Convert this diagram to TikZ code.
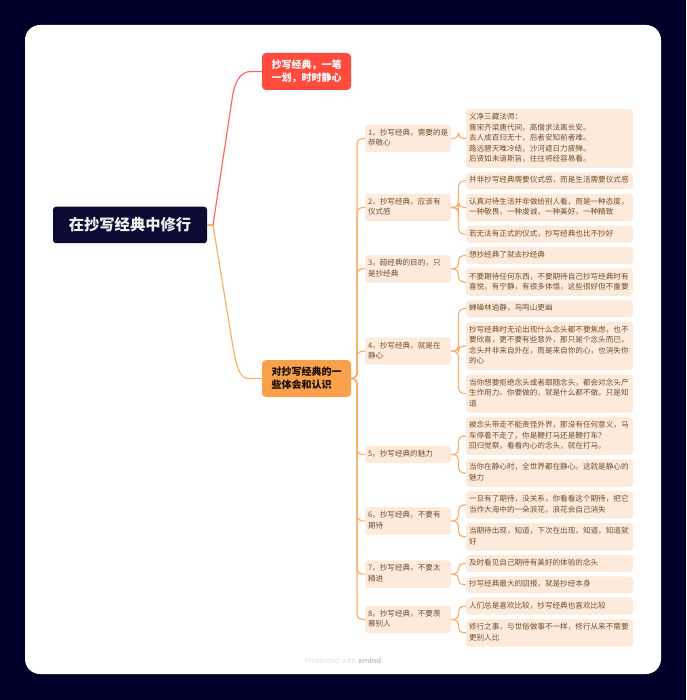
\documentclass[tikz,border=0pt]{standalone}
\usepackage{fontspec}
\setmainfont{Noto Sans CJK SC}
\newfontfamily\brandfont{Poppins}
\usetikzlibrary{positioning, calc}
\definecolor{pagebg}{HTML}{00002A}
\definecolor{rootfill}{HTML}{0A0A32}
\definecolor{redfill}{HTML}{FF4A3D}
\definecolor{redlink}{HTML}{FF6A5C}
\definecolor{orangefill}{HTML}{F9A04C}
\definecolor{leaffill}{HTML}{FEEADB}
\definecolor{leaftext}{HTML}{704F30}
\definecolor{twig}{HTML}{FBB06A}

\begin{document}
\begin{tikzpicture}[
					x=1pt, y=-1pt,
					box/.style={rounded corners=3.5pt, outer sep=0pt, inner xsep=3pt, inner ysep=3.25pt, align=left,
						execute at begin node=\strut, execute at end node=\strut},
					leaf/.style={box, fill=leaffill, text=leaftext, text width=161pt,
						font=\fontsize{7.6}{10.5}\selectfont},
					topic/.style={box, fill=leaffill, text=leaftext, text width=80pt,
						font=\fontsize{7.6}{10.5}\selectfont},
					main/.style={rounded corners=4pt, outer sep=0pt, minimum width=89pt, minimum height=37pt, align=left, inner sep=0pt,
						font=\fontsize{10}{13}\selectfont\bfseries},
					link/.style={draw=twig, line width=1.2pt, rounded corners=5pt},
					node distance=4.38pt]
				\useasboundingbox (0,0) rectangle (686,700);
				\fill[pagebg] (0,0) rectangle (686,700);
				\fill[white] (25,25) [rounded corners=15pt] rectangle (661,674);

				\node[fill=rootfill, text=white!94!black, rounded corners=3pt, outer sep=0pt, minimum width=154pt, minimum height=36.5pt,
					font=\fontsize{15.3}{18}\selectfont\bfseries] (root) at (130,225) {在抄写经典中修行};
				\node[main, fill=redfill, text=white] (maxim) at (306.5,71.5) {抄写经典，一笔\\一划，时时静心};
				\node[main, fill=orangefill, text=black!90!orange] (notes) at (306.5,378.5) {对抄写经典的一\\些体会和认识};

				\node[leaf, anchor=north west] (l1) at (466,109) {义净三藏法师：\\晋宋齐梁唐代间，高僧求法离长安。\\去人成百归无十，后者安知前者难。\\路远碧天唯冷结，沙河遮日力疲殚。\\后贤如未谙斯旨，往往将经容易看。};
				\node[leaf, below=of l1] (l2a) {并非抄写经典需要仪式感，而是生活需要仪式感};
				\node[leaf, below=of l2a] (l2b) {认真对待生活并非做给别人看，而是一种态度，\\一种敬畏，一种虔诚，一种美好，一种精致};
				\node[leaf, below=of l2b] (l2c) {若无法有正式的仪式，抄写经典也比不抄好};
				\node[leaf, below=of l2c] (l3a) {想抄经典了就去抄经典};
				\node[leaf, below=of l3a] (l3b) {不要期待任何东西，不要期待自己抄写经典时有\\喜悦，有宁静，有很多体悟，这些很好但不重要};
				\node[leaf, below=of l3b] (l4a) {蝉噪林逾静，鸟鸣山更幽};
				\node[leaf, below=of l4a] (l4b) {抄写经典时无论出现什么念头都不要焦虑，也不\\要欣喜，更不要有些意外，那只是个念头而已，\\念头并非来自外在，而是来自你的心，也消失你\\的心};
				\node[leaf, below=of l4b] (l4c) {当你想要拒绝念头或者跟随念头，都会对念头产\\生作用力。你要做的，就是什么都不做。只是知\\道};
				\node[leaf, below=of l4c] (l5a) {被念头带走不能责怪外界，那没有任何意义，马\\车停着不走了，你是鞭打马还是鞭打车？\\回归觉察，看看内心的念头，就在打马。};
				\node[leaf, below=of l5a] (l5b) {当你在静心时，全世界都在静心。这就是静心的\\魅力};
				\node[leaf, below=of l5b] (l6a) {一旦有了期待，没关系，你看看这个期待，把它\\当作大海中的一朵浪花，浪花会自己消失};
				\node[leaf, below=of l6a] (l6b) {当期待出现，知道，下次在出现，知道，知道就\\好};
				\node[leaf, below=of l6b] (l7a) {及时看见自己期待有美好的体验的念头};
				\node[leaf, below=of l7a] (l7b) {抄写经典最大的回报，就是抄经本身};
				\node[leaf, below=of l7b] (l8a) {人们总是喜欢比较，抄写经典也喜欢比较};
				\node[leaf, below=of l8a] (l8b) {修行之事，与世俗做事不一样，修行从来不需要\\更别人比};

				\foreach \first/\last/\meet in {l2a/l2c/j2, l3a/l3b/j3, l4a/l4c/j4, l5a/l5b/j5, l6a/l6b/j6, l7a/l7b/j7, l8a/l8b/j8}
					\coordinate (\meet) at ($(\first.west)!.5!(\last.west)$);

				\node[topic, left=15pt of l1] (t1) {1，抄写经典，需要的是\\恭敬心};
				\node[topic, left=15pt of j2] (t2) {2，抄写经典，应该有\\仪式感};
				\node[topic, left=15pt of j3] (t3) {3，超经典的目的，只\\是抄经典};
				\node[topic, left=15pt of j4] (t4) {4，抄写经典，就是在\\静心};
				\node[topic, left=15pt of j5] (t5) {5，抄写经典的魅力};
				\node[topic, left=15pt of j6] (t6) {6，抄写经典，不要有\\期待};
				\node[topic, left=15pt of j7] (t7) {7，抄写经典，不要太\\精进};
				\node[topic, left=15pt of j8] (t8) {8，抄写经典，不要羡\\慕别人};

				\coordinate[right=6pt of root] (j0);
				\draw[link] (root) -- (j0);
				\draw[draw=redlink, line width=1.2pt] (j0) -- ++(20,-132) .. controls +(3,-14) and +(-9,0) .. ++(18,-21.5) -- (maxim);
				\draw[draw=twig, line width=1.2pt] (j0) -- ++(18.5,113) .. controls +(3,17) and +(-10,0) .. ++(16,40.5) -- (notes);

				\foreach \to in {t1, t2, t3, t4, t5, t6, t7, t8}
					\draw[link] (notes.east) -- ++(6,0) |- (\to.west);
				\foreach \from/\to in {t1/l1, t2/l2a, t2/l2b, t2/l2c, t3/l3a, t3/l3b, t4/l4a, t4/l4b, t4/l4c, t5/l5a, t5/l5b, t6/l6a, t6/l6b, t7/l7a, t7/l7b, t8/l8a, t8/l8b}
					\draw[link] (\from.east) -- ++(7.5,0) |- (\to.west);

				\node[inner sep=0pt, font=\fontsize{7}{9}\brandfont, text=black!13] (brand) at (343,661) {Presented with \textcolor{black!22}{\bfseries xmind}};
			\end{tikzpicture}
\end{document}
